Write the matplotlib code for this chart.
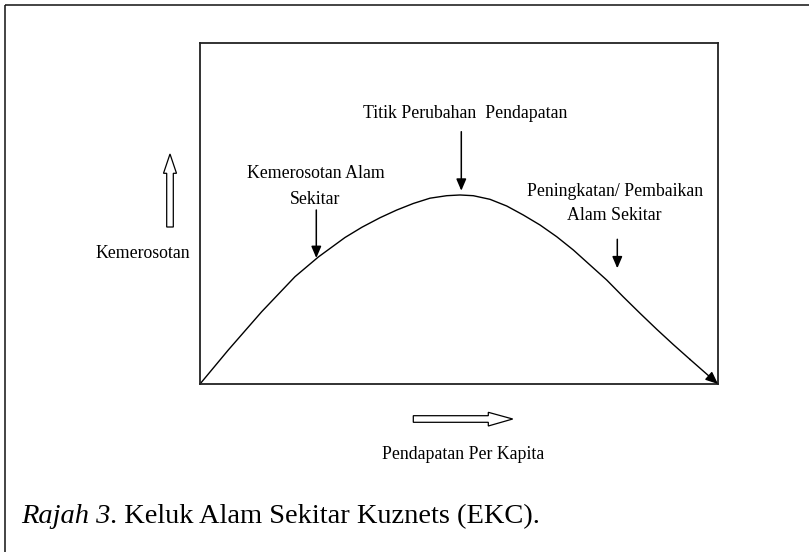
import matplotlib.pyplot as plt
from matplotlib.patches import Polygon, FancyArrowPatch

plt.rcParams['font.family'] = ['Liberation Serif', 'DejaVu Serif']

# EKC curve (income 0-100 across the box, degradation 0-100 up the box)
income = [0, 5.46, 11.91, 18.34, 22.84, 27.99, 31.27, 34.75, 37.97, 41.18, 44.40,
          47.63, 50.19, 52.76, 55.98, 59.21, 62.41, 65.64, 68.86, 72.07, 75.29,
          78.51, 81.72, 84.94, 88.17, 91.37, 94.59, 100]
degradation = [0, 9.97, 21.20, 31.47, 37.24, 42.96, 45.98, 48.76, 51.01, 52.94, 54.49,
               55.22, 55.43, 55.22, 54.16, 52.20, 49.56, 46.63, 43.20, 39.30, 34.90,
               30.50, 25.55, 20.75, 16.05, 11.57, 7.22, 0]

turning_label = 'Titik Perubahan  Pendapatan'
decline_label = ['Kemerosotan Alam', 'Sekitar']
improve_label = ['Peningkatan/ Pembaikan', 'Alam Sekitar']
y_label = 'Kemerosotan'
x_label = 'Pendapatan Per Kapita'
caption_italic = 'Rajah 3'
caption_rest = '. Keluk Alam Sekitar Kuznets (EKC).'

W, H = 809, 552
fig = plt.figure(figsize=(W / 100, H / 100), dpi=100)

# overlay in pixel units for the frame, labels and arrows
ov = fig.add_axes([0, 0, 1, 1])
ov.set_xlim(0, W)
ov.set_ylim(H, 0)
ov.axis('off')

ov.plot([5, W], [5, 5], color='#111', lw=1.1, solid_capstyle='butt')
ov.plot([5, 5], [5, H], color='#111', lw=1.1, solid_capstyle='butt')

# the plot box
ax = fig.add_axes([200 / W, (H - 384) / H, 518 / W, 341 / H])
ax.patch.set_alpha(0)
ax.set_xlim(0, 100)
ax.set_ylim(0, 100)
ax.set_xticks([])
ax.set_yticks([])
for s in ax.spines.values():
    s.set_color('#222')
    s.set_linewidth(1.3)

ax.plot(income[:-1], degradation[:-1], color='black', lw=1.0, solid_joinstyle='round')
ax.annotate('', xy=(income[-1], degradation[-1]), xytext=(income[-2], degradation[-2]),
            arrowprops=dict(arrowstyle='-|>,head_length=0.75,head_width=0.32', color='black',
                            lw=1.0, shrinkA=0, shrinkB=0, mutation_scale=10),
            annotation_clip=False)

fs = 12.8
ov.text(465.3, 117.5, turning_label, fontsize=fs, ha='center', va='baseline')
ov.text(316.2, 177.5, decline_label[0], fontsize=fs, ha='center', va='baseline')
ov.text(315, 203.5, decline_label[1], fontsize=fs, ha='center', va='baseline')
ov.text(614.8, 195.7, improve_label[0], fontsize=fs, ha='center', va='baseline')
ov.text(613.8, 220, improve_label[1], fontsize=fs, ha='center', va='baseline')
ov.text(142.5, 258.3, y_label, fontsize=fs, ha='center', va='baseline')
ov.text(463.3, 459.3, x_label, fontsize=fs, ha='center', va='baseline')

cap = ov.text(21, 523.3, caption_italic, fontsize=20.5, style='italic', ha='left', va='baseline')
ov.annotate(caption_rest, xy=(1, 0), xycoords=cap, fontsize=20.5, ha='left', va='bottom')


def down_arrow(x, y0, y1):
    ov.add_patch(FancyArrowPatch((x, y0), (x, y1), arrowstyle='-|>,head_length=0.7,head_width=0.3',
                                 mutation_scale=10, color='black', lw=1.1, shrinkA=0, shrinkB=0))


down_arrow(461.3, 131.7, 190.7)
down_arrow(316.3, 210, 258)
down_arrow(617.3, 239.3, 268.3)

# hollow block arrows for the axis directions
up = [(166.7, 227), (173.3, 227), (173.3, 173.3), (176.5, 173.3), (170, 154),
      (163.5, 173.3), (166.7, 173.3)]
ov.add_patch(Polygon(up, closed=True, facecolor='white', edgecolor='black', lw=0.9))
right = [(413.3, 415.7), (488.3, 415.7), (488.3, 412.3), (512.7, 419), (488.3, 426),
         (488.3, 422.3), (413.3, 422.3)]
ov.add_patch(Polygon(right, closed=True, facecolor='white', edgecolor='black', lw=0.9))

fig.savefig('out.png', dpi=100)
